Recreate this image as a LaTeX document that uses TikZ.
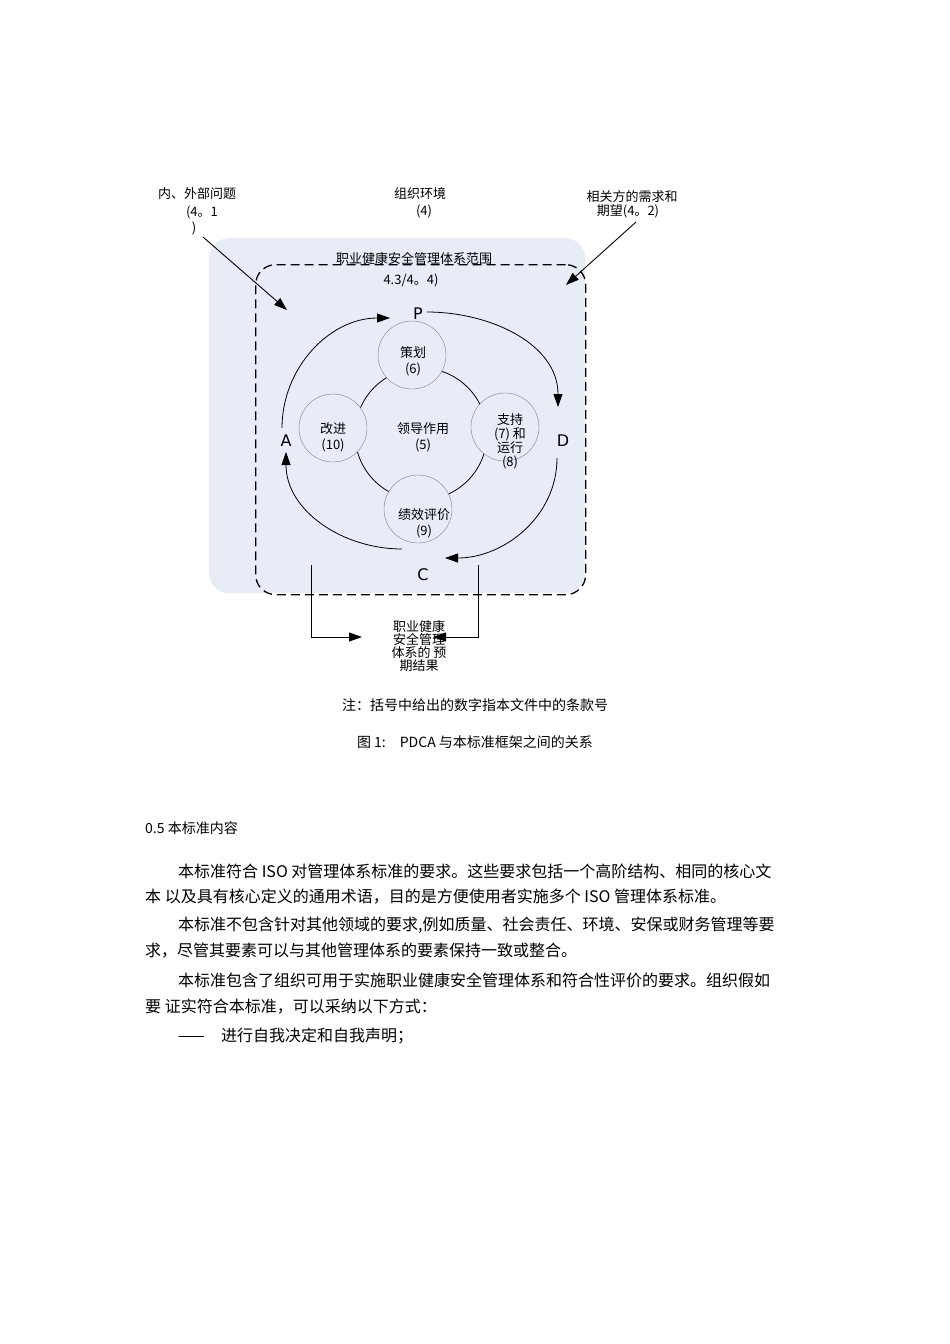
\documentclass[tikz,border=0pt]{standalone}
\usepackage{fontspec}
\setmainfont{Noto Sans CJK SC}
\newfontfamily\djvfont{DejaVu Sans}
\usetikzlibrary{arrows.meta}
\definecolor{bgblue}{HTML}{E8ECF7}
\begin{document}
\begin{tikzpicture}[x=1pt,y=1pt,
  lab/.style={font=\fontsize{13}{14}\selectfont, inner sep=0pt, align=center},
  body/.style={font=\fontsize{16}{18}\selectfont, inner sep=0pt, anchor=west},
  circ/.style={circle, draw=gray, fill=bgblue, minimum size=68pt, inner sep=0pt},
  arr/.style={-{Triangle[length=13pt,width=9pt]}, line width=0.8pt},
  letter/.style={font=\djvfont\fontsize{16}{16}\selectfont, inner sep=0pt}]
\useasboundingbox (0,0) rectangle (950,-1344);
\fill[white] (0,0) rectangle (950,-1344);
% backgrounds
\node[draw=none, fill=bgblue, rounded corners=20pt, minimum width=376pt, minimum height=355pt, anchor=north west] (bg) at (209,-238) {};
\node[draw, dashed, dash pattern=on 9pt off 5pt, line width=1.3pt, rounded corners=20pt, minimum width=330pt, minimum height=330pt, anchor=north west] (scope) at (255,-264) {};
\node[lab] (t1) at (414,-258) {职业健康安全管理体系范围};
\node[lab] (t2) at (411,-280) {4.3/4。4)};
% top labels
\node[lab] (ext1) at (197,-194) {内、外部问题};
\node[lab] (ext2) at (202,-212) {(4。1};
\node[lab] (ext3) at (194,-228) {)};
\node[lab] (org1) at (420,-194) {组织环境};
\node[lab] (org2) at (424,-211) {(4)};
\node[lab] (int1) at (632,-197) {相关方的需求和};
\node[lab] (int2) at (628,-211) {期望(4。2)};
\coordinate (a1s) at (203,-237); \coordinate (a1e) at (287,-310);
\coordinate (a2s) at (636,-222); \coordinate (a2e) at (566,-285);
\draw[arr, line width=0.9pt] (a1s) -- (a1e);
\draw[arr, line width=0.9pt] (a2s) -- (a2e);
% central circle
\node[circle, draw=black, line width=0.8pt, fill=bgblue, minimum size=132pt] (lead) at (421,-434) {};
\node[lab] (leadt) at (423,-437) {领导作用\\[2pt](5)};
\node[circ] (c6) at (412,-355) {};
\node[circ] (c10) at (333,-428) {};
\node[circ] (c78) at (505,-427) {};
\node[circ] (c9) at (418,-509) {};
\node[lab] (c6t) at (413,-361) {策划\\[2pt](6)};
\node[lab] (c10t) at (333,-437) {改进\\[2pt](10)};
\node[lab] (c78t) at (510,-441) {支持\\(7) 和\\运行\\(8)};
\node[lab] (c9t) at (424,-523) {绩效评价\\[2pt](9)};
% PDCA letters
\node[letter] (P) at (418,-314) {P};
\node[letter] (D) at (563,-441) {D};
\node[letter] (C) at (423,-575) {C};
\node[letter] (A) at (286,-441) {A};
\coordinate (p1) at (282,-428); \coordinate (p2) at (390,-318);
\coordinate (p3) at (427,-312); \coordinate (p4) at (558,-407);
\coordinate (p5) at (557,-458); \coordinate (p6) at (445,-558);
\coordinate (p7) at (402,-549); \coordinate (p8) at (286,-452);
\draw[arr] (p1) to[out=90,in=180] (p2);
\draw[arr] (p3) to[out=0,in=90] (p4);
\draw[arr] (p5) to[out=-90,in=0] (p6);
\draw[arr] (p7) to[out=180,in=-90] (p8);
% bottom outcome
\node[lab, font=\fontsize{13}{13}\selectfont] (out) at (419,-646) {职业健康\\安全管理\\体系的 预\\期结果};
\coordinate (b1) at (311,-565); \coordinate (b2) at (478,-565);
\coordinate (b1e) at (362,-637); \coordinate (b2e) at (433,-637);
\draw[arr, line width=0.9pt] (b1) |- (b1e);
\draw[arr, line width=0.9pt] (b2) |- (b2e);
% captions
\node[font=\fontsize{14}{16}\selectfont, inner sep=0pt] (note) at (475,-705) {注：括号中给出的数字指本文件中的条款号};
\node[font=\fontsize{14}{16}\selectfont, inner sep=0pt] (fig) at (475,-742) {图 1:\quad PDCA 与本标准框架之间的关系};
% body text
\node[body, font=\fontsize{14}{16}\selectfont] (sec) at (145,-828) {0.5 本标准内容};
\node[body] (l1) at (178,-871) {本标准符合 ISO 对管理体系标准的要求。这些要求包括一个高阶结构、相同的核心文};
\node[body] (l2) at (145,-897) {本 以及具有核心定义的通用术语，目的是方便使用者实施多个 ISO 管理体系标准。};
\node[body] (l3) at (178,-925) {本标准不包含针对其他领域的要求,例如质量、社会责任、环境、安保或财务管理等要};
\node[body] (l4) at (145,-951) {求，尽管其要素可以与其他管理体系的要素保持一致或整合。};
\node[body] (l5) at (178,-980) {本标准包含了组织可用于实施职业健康安全管理体系和符合性评价的要求。组织假如};
\node[body] (l6) at (145,-1007) {要 证实符合本标准，可以采纳以下方式：};
\node[body] (l7) at (178,-1036) {——\quad 进行自我决定和自我声明；};
\end{tikzpicture}
\end{document}
